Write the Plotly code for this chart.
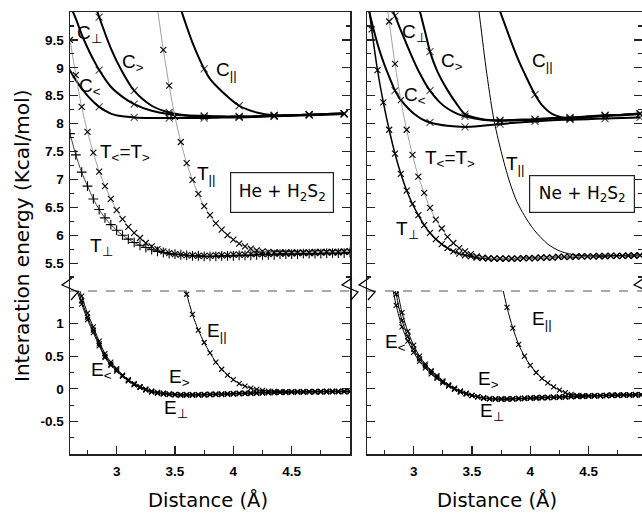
import plotly.graph_objects as go

# ---------------- data : He + H2S2 (left panel) ----------------
MARK_HE = [2.85, 3.15, 3.45, 3.75, 4.05, 4.35, 4.65, 4.95]

HE_CPERP_X = [2.55, 2.60, 2.65, 2.70, 2.75, 2.80, 2.85, 2.95, 3.05, 3.15, 3.30, 3.45, 3.60, 3.75, 3.90, 4.05, 4.20, 4.35, 4.50, 4.65, 4.80, 4.95]
HE_CPERP_E = [10.40, 10.13, 9.88, 9.60, 9.36, 9.15, 8.96, 8.66, 8.48, 8.35, 8.23, 8.17, 8.14, 8.13, 8.12, 8.12, 8.13, 8.14, 8.15, 8.16, 8.17, 8.18]
HE_CGT_X = [2.70, 2.75, 2.80, 2.85, 2.95, 3.05, 3.15, 3.30, 3.45, 3.60, 3.75, 3.90, 4.05, 4.20, 4.35, 4.50, 4.65, 4.80, 4.95]
HE_CGT_E = [10.90, 10.55, 10.22, 9.91, 9.35, 8.92, 8.59, 8.32, 8.20, 8.15, 8.14, 8.13, 8.13, 8.13, 8.14, 8.15, 8.16, 8.17, 8.18]
HE_CLT_X = [2.55, 2.60, 2.65, 2.70, 2.75, 2.80, 2.85, 2.95, 3.05, 3.15, 3.30, 3.45, 3.60, 3.75, 3.90, 4.05, 4.20, 4.35, 4.50, 4.65, 4.80, 4.95]
HE_CLT_E = [9.12, 8.95, 8.78, 8.63, 8.50, 8.39, 8.30, 8.18, 8.13, 8.11, 8.10, 8.10, 8.10, 8.10, 8.11, 8.11, 8.12, 8.13, 8.14, 8.15, 8.16, 8.17]
HE_CPAR_X = [3.45, 3.50, 3.55, 3.60, 3.65, 3.70, 3.75, 3.80, 3.90, 4.05, 4.20, 4.35, 4.50, 4.65, 4.80, 4.95]
HE_CPAR_E = [10.70, 10.35, 10.05, 9.74, 9.45, 9.20, 8.98, 8.80, 8.58, 8.32, 8.20, 8.15, 8.15, 8.16, 8.17, 8.18]

HE_T_X = [2.60, 2.65, 2.70, 2.75, 2.80, 2.85, 2.90, 2.95, 3.00, 3.05, 3.10, 3.15, 3.20, 3.25, 3.30, 3.35, 3.40,
          3.45, 3.50, 3.55, 3.60, 3.65, 3.70, 3.75, 3.80, 3.85, 3.90, 3.95, 4.00, 4.05, 4.10, 4.15, 4.20, 4.25,
          4.30, 4.35, 4.40, 4.45, 4.50, 4.55, 4.60, 4.65, 4.70, 4.75, 4.80, 4.85, 4.90, 4.95, 5.00]
HE_TLTGT_E = [9.50, 8.87, 8.30, 7.85, 7.48, 7.14, 6.88, 6.65, 6.45, 6.29, 6.15, 6.04, 5.95, 5.86, 5.80, 5.75, 5.71,
              5.68, 5.66, 5.65, 5.64, 5.64, 5.63, 5.63, 5.63, 5.64, 5.64, 5.64, 5.65, 5.65, 5.65, 5.66, 5.66, 5.66,
              5.66, 5.67, 5.67, 5.67, 5.67, 5.68, 5.68, 5.68, 5.68, 5.69, 5.69, 5.69, 5.69, 5.70, 5.70]
HE_TPERP_E = [7.82, 7.44, 7.13, 6.88, 6.65, 6.46, 6.31, 6.19, 6.09, 6.00, 5.93, 5.87, 5.82, 5.78, 5.74, 5.71, 5.69,
              5.67, 5.66, 5.65, 5.64, 5.63, 5.63, 5.62, 5.62, 5.62, 5.63, 5.63, 5.63, 5.64, 5.64, 5.64, 5.65, 5.65,
              5.65, 5.65, 5.66, 5.66, 5.66, 5.66, 5.67, 5.67, 5.67, 5.67, 5.68, 5.68, 5.68, 5.68, 5.69]
HE_TPAR_X = [3.35, 3.40, 3.45, 3.50, 3.55, 3.60, 3.65, 3.70, 3.75, 3.80, 3.85, 3.90, 3.95, 4.00, 4.05, 4.10, 4.15,
             4.20, 4.25, 4.30, 4.35, 4.40, 4.45, 4.50, 4.55, 4.60, 4.65, 4.70, 4.75, 4.80, 4.85, 4.90, 4.95, 5.00]
HE_TPAR_E = [10.06, 9.32, 8.68, 8.12, 7.67, 7.29, 6.99, 6.74, 6.52, 6.36, 6.21, 6.10, 6.00, 5.92, 5.85, 5.80, 5.76,
             5.73, 5.71, 5.70, 5.69, 5.69, 5.69, 5.69, 5.69, 5.69, 5.69, 5.70, 5.70, 5.70, 5.70, 5.70, 5.71, 5.71]

HE_E_X = [2.65, 2.70, 2.75, 2.80, 2.85, 2.90, 2.95, 3.00, 3.05, 3.10, 3.15, 3.20, 3.25, 3.30, 3.35, 3.40, 3.45,
          3.50, 3.55, 3.60, 3.65, 3.70, 3.75, 3.80, 3.85, 3.90, 3.95, 4.00, 4.05, 4.10, 4.15, 4.20, 4.25, 4.30,
          4.35, 4.40, 4.45, 4.50, 4.55, 4.60, 4.65, 4.70, 4.75, 4.80, 4.85, 4.90, 4.95, 5.00]
HE_ELT_E = [1.68, 1.42, 1.16, 0.95, 0.73, 0.54, 0.41, 0.31, 0.21, 0.14, 0.08, 0.035, -0.005, -0.035, -0.055, -0.068,
            -0.078, -0.084, -0.088, -0.088, -0.088, -0.088, -0.086, -0.083, -0.08, -0.078, -0.075, -0.072, -0.068,
            -0.065, -0.062, -0.059, -0.056, -0.054, -0.052, -0.05, -0.048, -0.046, -0.044, -0.043, -0.042, -0.041,
            -0.04, -0.039, -0.038, -0.038, -0.037, -0.036]
HE_EGT_E = [1.60, 1.35, 1.10, 0.90, 0.69, 0.50, 0.38, 0.29, 0.20, 0.13, 0.07, 0.03, -0.01, -0.04, -0.06, -0.07,
            -0.08, -0.085, -0.09, -0.09, -0.09, -0.09, -0.088, -0.085, -0.082, -0.08, -0.077, -0.074, -0.07,
            -0.067, -0.064, -0.061, -0.058, -0.056, -0.054, -0.052, -0.05, -0.048, -0.046, -0.045, -0.044, -0.043,
            -0.042, -0.041, -0.04, -0.04, -0.039, -0.038]
HE_EPERP_E = [1.55, 1.30, 1.06, 0.86, 0.66, 0.48, 0.36, 0.27, 0.19, 0.12, 0.06, 0.02, -0.02, -0.05, -0.07, -0.08,
              -0.09, -0.095, -0.10, -0.10, -0.10, -0.098, -0.096, -0.093, -0.09, -0.088, -0.085, -0.082, -0.078,
              -0.075, -0.072, -0.069, -0.066, -0.064, -0.062, -0.06, -0.058, -0.056, -0.054, -0.053, -0.052,
              -0.051, -0.05, -0.049, -0.048, -0.048, -0.047, -0.046]
HE_EPAR_X = [3.55, 3.60, 3.65, 3.70, 3.75, 3.80, 3.85, 3.90, 3.95, 4.00, 4.05, 4.10, 4.15, 4.20, 4.25, 4.30, 4.35,
             4.40, 4.45, 4.50, 4.55, 4.60, 4.65, 4.70, 4.75, 4.80, 4.85, 4.90, 4.95, 5.00]
HE_EPAR_E = [1.80, 1.45, 1.14, 0.90, 0.71, 0.55, 0.41, 0.30, 0.21, 0.14, 0.08, 0.04, 0.01, -0.01, -0.025, -0.035,
             -0.04, -0.043, -0.045, -0.045, -0.045, -0.045, -0.044, -0.043, -0.042, -0.041, -0.04, -0.04, -0.039, -0.038]

# ---------------- data : Ne + H2S2 (right panel) ----------------
MARK_NE = [2.84, 3.14, 3.44, 3.74, 4.04, 4.34, 4.64, 4.94]

NE_CPERP_X = [2.75, 2.80, 2.84, 2.90, 2.95, 3.00, 3.05, 3.10, 3.14, 3.22, 3.29, 3.37, 3.44, 3.59, 3.74, 3.89, 4.04, 4.19, 4.34, 4.49, 4.64, 4.79, 4.94]
NE_CPERP_E = [10.40, 10.12, 9.93, 9.62, 9.37, 9.13, 8.91, 8.72, 8.59, 8.39, 8.27, 8.18, 8.13, 8.07, 8.05, 8.06, 8.07, 8.09, 8.10, 8.12, 8.14, 8.15, 8.17]
NE_CGT_X = [2.95, 3.00, 3.055, 3.10, 3.14, 3.20, 3.29, 3.37, 3.44, 3.59, 3.74, 3.89, 4.04, 4.19, 4.34, 4.49, 4.64, 4.79, 4.94]
NE_CGT_E = [10.90, 10.45, 10.00, 9.63, 9.29, 8.95, 8.60, 8.35, 8.17, 8.08, 8.06, 8.07, 8.08, 8.10, 8.11, 8.13, 8.15, 8.16, 8.18]
NE_CLT_X = [2.58, 2.62, 2.66, 2.70, 2.75, 2.80, 2.84, 2.90, 2.95, 3.00, 3.07, 3.14, 3.29, 3.44, 3.59, 3.74, 3.89, 4.04, 4.19, 4.34, 4.49, 4.64, 4.79, 4.94]
NE_CLT_E = [10.35, 10.00, 9.66, 9.36, 9.05, 8.79, 8.59, 8.40, 8.28, 8.18, 8.08, 8.02, 7.96, 7.94, 7.96, 7.99, 8.02, 8.04, 8.06, 8.07, 8.08, 8.09, 8.10, 8.11]
NE_CPAR_X = [3.65, 3.70, 3.76, 3.80, 3.85, 3.90, 3.95, 4.04, 4.10, 4.19, 4.34, 4.49, 4.64, 4.79, 4.94]
NE_CPAR_E = [10.55, 10.25, 9.90, 9.67, 9.39, 9.13, 8.90, 8.52, 8.33, 8.17, 8.09, 8.11, 8.14, 8.16, 8.18]

NE_TPERP_X = [2.59, 2.64, 2.69, 2.74, 2.79, 2.84, 2.89, 2.94, 2.99, 3.04, 3.09, 3.14, 3.19, 3.24, 3.29, 3.34, 3.39,
              3.44, 3.49, 3.54, 3.59, 3.64, 3.69, 3.74, 3.79, 3.84, 3.89, 3.94, 3.99, 4.04, 4.09, 4.14, 4.19, 4.24,
              4.29, 4.34, 4.39, 4.44, 4.49, 4.54, 4.59, 4.64, 4.69, 4.74, 4.79, 4.84, 4.89, 4.94]
NE_TPERP_E = [10.50, 9.69, 8.96, 8.38, 7.89, 7.46, 7.10, 6.80, 6.56, 6.36, 6.18, 6.04, 5.93, 5.84, 5.77, 5.71, 5.67,
              5.64, 5.62, 5.60, 5.59, 5.58, 5.58, 5.58, 5.58, 5.58, 5.58, 5.59, 5.59, 5.59, 5.60, 5.60, 5.60, 5.61,
              5.61, 5.61, 5.61, 5.62, 5.62, 5.62, 5.62, 5.62, 5.63, 5.63, 5.63, 5.63, 5.63, 5.64]
NE_TLTGT_X = [2.74, 2.79, 2.84, 2.89, 2.94, 2.99, 3.04, 3.09, 3.14, 3.19, 3.24, 3.29, 3.34, 3.39, 3.44, 3.49, 3.54,
              3.59, 3.64, 3.69, 3.74, 3.79, 3.84, 3.89, 3.94, 3.99, 4.04, 4.09, 4.14, 4.19, 4.24, 4.29, 4.34, 4.39,
              4.44, 4.49, 4.54, 4.59, 4.64, 4.69, 4.74, 4.79, 4.84, 4.89, 4.94]
NE_TLTGT_E = [10.60, 9.83, 9.07, 8.42, 7.89, 7.44, 7.05, 6.76, 6.49, 6.28, 6.12, 5.97, 5.86, 5.77, 5.71, 5.66, 5.62,
              5.60, 5.59, 5.58, 5.58, 5.58, 5.58, 5.58, 5.59, 5.59, 5.59, 5.60, 5.60, 5.60, 5.61, 5.61, 5.61, 5.62,
              5.62, 5.62, 5.62, 5.63, 5.63, 5.63, 5.63, 5.63, 5.64, 5.64, 5.64]
NE_TPAR_X = [3.50, 3.56, 3.62, 3.685, 3.75, 3.82, 3.885, 3.95, 4.03, 4.15, 4.26, 4.40, 4.60, 4.96]
NE_TPAR_E = [10.90, 10.00, 9.00, 8.10, 7.50, 6.97, 6.60, 6.35, 6.10, 5.84, 5.71, 5.64, 5.63, 5.65]

NE_E_X = [2.80, 2.85, 2.90, 2.95, 3.00, 3.05, 3.10, 3.15, 3.20, 3.25, 3.30, 3.35, 3.40, 3.45, 3.50, 3.55, 3.60,
          3.65, 3.70, 3.75, 3.80, 3.85, 3.90, 3.95, 4.00, 4.05, 4.10, 4.15, 4.20, 4.25, 4.30, 4.35, 4.40, 4.45,
          4.50, 4.55, 4.60, 4.65, 4.70, 4.75, 4.80, 4.85, 4.90, 4.95]
NE_ELT_E = [1.72, 1.28, 0.95, 0.73, 0.56, 0.42, 0.32, 0.23, 0.16, 0.09, 0.04, -0.01, -0.05, -0.08, -0.105, -0.125,
            -0.14, -0.15, -0.155, -0.155, -0.155, -0.15, -0.148, -0.145, -0.14, -0.137, -0.133, -0.13, -0.127,
            -0.124, -0.12, -0.117, -0.114, -0.111, -0.108, -0.105, -0.103, -0.10, -0.098, -0.096, -0.094, -0.092,
            -0.09, -0.089]
NE_EGT_E = [1.95, 1.45, 1.05, 0.80, 0.61, 0.46, 0.35, 0.26, 0.18, 0.11, 0.05, 0.00, -0.04, -0.07, -0.10, -0.12,
            -0.14, -0.15, -0.155, -0.155, -0.155, -0.15, -0.148, -0.145, -0.14, -0.137, -0.133, -0.13, -0.127,
            -0.124, -0.12, -0.117, -0.114, -0.111, -0.108, -0.105, -0.103, -0.10, -0.098, -0.096, -0.094, -0.092,
            -0.09, -0.089]
NE_EPERP_E = [2.20, 1.62, 1.17, 0.88, 0.67, 0.50, 0.38, 0.28, 0.20, 0.12, 0.06, 0.01, -0.035, -0.07, -0.10, -0.125,
              -0.145, -0.155, -0.16, -0.162, -0.162, -0.158, -0.155, -0.152, -0.148, -0.145, -0.141, -0.138,
              -0.134, -0.131, -0.127, -0.124, -0.121, -0.118, -0.115, -0.112, -0.11, -0.107, -0.105, -0.103,
              -0.101, -0.099, -0.097, -0.096]
NE_EPAR_X = [3.75, 3.80, 3.85, 3.90, 3.95, 4.00, 4.05, 4.10, 4.15, 4.20, 4.25, 4.30, 4.35, 4.40, 4.45, 4.50, 4.55,
             4.60, 4.65, 4.70, 4.75, 4.80, 4.85, 4.90, 4.95]
NE_EPAR_E = [1.65, 1.25, 0.93, 0.68, 0.50, 0.36, 0.25, 0.16, 0.09, 0.03, -0.02, -0.06, -0.085, -0.10, -0.105,
             -0.107, -0.105, -0.103, -0.10, -0.098, -0.096, -0.094, -0.092, -0.09, -0.089]

X_TICKS = [3, 3.5, 4, 4.5]
X_TICKTEXT = ["3", "3.5", "4", "4.5"]
YU_TICKS = [5.5, 6, 6.5, 7, 7.5, 8, 8.5, 9, 9.5]
YU_TICKTEXT = ["5.5", "6", "6.5", "7", "7.5", "8", "8.5", "9", "9.5"]
YL_TICKS = [-0.5, 0, 0.5, 1]
YL_TICKTEXT = ["-0.5", "0", "0.5", "1"]

# ---------------- figure ----------------
FONT = "Liberation Sans, Arial, sans-serif"
TFONT = "DejaVu Sans, Liberation Sans, sans-serif"
GRAY = "#a0a0a0"
AX = "#222222"

fig = go.Figure()


def sizes(xs, marks, s):
    return [s if any(abs(x - m) < 1e-6 for m in marks) else 0 for x in xs]


def curve(x, y, xa, ya, lw=1.0, lc="black", sym="x-thin", ms=6, size_list=None, mode="lines+markers"):
    fig.add_trace(go.Scatter(
        x=x, y=y, xaxis=xa, yaxis=ya, mode=mode, showlegend=False, hoverinfo="skip",
        line=dict(color=lc, width=lw, shape="spline", smoothing=0.8),
        marker=dict(symbol=sym, size=size_list if size_list is not None else ms, color="black",
                    line=dict(color="black", width=1.1)),
    ))


# Left panel upper (x2, y2)
curve(HE_CPERP_X, HE_CPERP_E, "x2", "y2", lw=2.0, size_list=sizes(HE_CPERP_X, MARK_HE, 7))
curve(HE_CGT_X, HE_CGT_E, "x2", "y2", lw=2.0, size_list=sizes(HE_CGT_X, MARK_HE, 7))
curve(HE_CLT_X, HE_CLT_E, "x2", "y2", lw=2.0, size_list=sizes(HE_CLT_X, MARK_HE, 7))
curve(HE_CPAR_X, HE_CPAR_E, "x2", "y2", lw=2.0, size_list=sizes(HE_CPAR_X, MARK_HE, 7))
curve(HE_T_X, HE_TLTGT_E, "x2", "y2", lw=1.0, lc=GRAY, ms=6)
curve(HE_T_X, HE_TPERP_E, "x2", "y2", lw=1.0, lc="#444444", sym="cross-thin", ms=7)
curve(HE_TPAR_X, HE_TPAR_E, "x2", "y2", lw=1.0, lc=GRAY, ms=6)
# Left panel lower (x, y)
curve(HE_E_X, HE_ELT_E, "x", "y", lw=1.0, ms=5)
curve(HE_E_X, HE_EGT_E, "x", "y", lw=1.0, ms=5)
curve(HE_E_X, HE_EPERP_E, "x", "y", lw=1.0, ms=5)
curve(HE_EPAR_X, HE_EPAR_E, "x", "y", lw=1.0, ms=5)

# Right panel upper (x4, y4)
curve(NE_CPERP_X, NE_CPERP_E, "x4", "y4", lw=2.0, size_list=sizes(NE_CPERP_X, MARK_NE, 7))
curve(NE_CGT_X, NE_CGT_E, "x4", "y4", lw=2.0, size_list=sizes(NE_CGT_X, MARK_NE, 7))
curve(NE_CLT_X, NE_CLT_E, "x4", "y4", lw=2.0, size_list=sizes(NE_CLT_X, MARK_NE, 7))
curve(NE_CPAR_X, NE_CPAR_E, "x4", "y4", lw=2.0, size_list=sizes(NE_CPAR_X, MARK_NE, 7))
curve(NE_TPERP_X, NE_TPERP_E, "x4", "y4", lw=1.5, lc="black", ms=6)
curve(NE_TLTGT_X, NE_TLTGT_E, "x4", "y4", lw=1.0, lc=GRAY, ms=6)
curve(NE_TPAR_X, NE_TPAR_E, "x4", "y4", lw=1.0, lc="black", mode="lines")
# Right panel lower (x3, y3)
curve(NE_E_X, NE_ELT_E, "x3", "y3", lw=1.0, ms=5)
curve(NE_E_X, NE_EGT_E, "x3", "y3", lw=1.0, ms=5)
curve(NE_E_X, NE_EPERP_E, "x3", "y3", lw=1.0, ms=5)
curve(NE_EPAR_X, NE_EPAR_E, "x3", "y3", lw=1.0, ms=5)

# ---------------- axes ----------------
W, H = 642, 513
ML, MR, MT, MB = 70, 0, 12, 59
PW, PH = W - ML - MR, H - MT - MB
LEFT_DOM = [0, 280 / PW]
RIGHT_DOM = [297 / PW, 1]
LOW_DOM = [0, 163 / PH]
UP_DOM = [163 / PH, 1]
XR_LEFT = [2.6, 5.0]
XR_RIGHT = [2.6, 2.6 + 275 / (280 / 2.4)]

tickfont = dict(family=FONT, size=13.5, color="black")
minor = dict(ticks="inside", ticklen=4, tickwidth=1.2, tickcolor=AX, dtick=0.25, tick0=0, showgrid=False)


def bold(lst):
    return ["<b>" + t + "</b>" for t in lst]


def yax(dom, rng, tv, tt, anchor, labels):
    return dict(domain=dom, range=rng, anchor=anchor, tickvals=tv, ticktext=bold(tt), showticklabels=labels,
                showline=True, linecolor=AX, linewidth=1.5, mirror="ticks", ticks="inside", ticklen=8,
                tickwidth=1.2, tickcolor=AX, showgrid=False, zeroline=False, tickfont=tickfont,
                ticklabelstandoff=2, minor=minor, fixedrange=True, automargin=False)


def xax_low(dom, rng, anchor):
    return dict(domain=dom, range=rng, anchor=anchor, tickvals=X_TICKS, ticktext=bold(X_TICKTEXT),
                showline=True, linecolor=AX, linewidth=1.5, mirror=False, ticks="inside", ticklen=8,
                tickwidth=1.2, tickcolor=AX, showgrid=False, zeroline=False, tickfont=tickfont,
                ticklabelstandoff=4, minor=minor, automargin=False, fixedrange=True)


def xax_up(dom, rng, anchor):
    return dict(domain=dom, range=rng, anchor=anchor, side="top", showline=True, linecolor=AX, linewidth=1.5,
                ticks="", showticklabels=False, showgrid=False, zeroline=False, automargin=False, fixedrange=True)


fig.update_layout(
    width=W, height=H, margin=dict(l=ML, r=MR, t=MT, b=MB),
    plot_bgcolor="white", paper_bgcolor="white", showlegend=False,
    xaxis=xax_low(LEFT_DOM, XR_LEFT, "y"),
    yaxis=yax(LOW_DOM, [-1, 1.5], YL_TICKS, YL_TICKTEXT, "x", True),
    xaxis2=xax_up(LEFT_DOM, XR_LEFT, "y2"),
    yaxis2=yax(UP_DOM, [5, 10], YU_TICKS, YU_TICKTEXT, "x2", True),
    xaxis3=xax_low(RIGHT_DOM, XR_RIGHT, "y3"),
    yaxis3=yax(LOW_DOM, [-1, 1.5], YL_TICKS, YL_TICKTEXT, "x3", False),
    xaxis4=xax_up(RIGHT_DOM, XR_RIGHT, "y4"),
    yaxis4=yax(UP_DOM, [5, 10], YU_TICKS, YU_TICKTEXT, "x4", False),
)

# break: dashed line and zig-zag marks
shapes = []
for xr in ["x", "x3"]:
    shapes.append(dict(type="line", xref=f"{xr} domain", x0=0, x1=1, yref="paper", y0=UP_DOM[0], y1=UP_DOM[0],
                       line=dict(color="#555555", width=1.2, dash="dash")))
for xa in [0, LEFT_DOM[1], RIGHT_DOM[0], 1.0]:
    shapes.append(dict(type="path", xref="paper", yref="paper", xsizemode="pixel", ysizemode="pixel",
                       xanchor=xa, yanchor=UP_DOM[0], path="M 2,13 L -8,6 L 8,-1 L 1,-9",
                       line=dict(color="black", width=1.2)))
fig.update_layout(shapes=shapes)

# ---------------- labels ----------------
LAB = dict(family=FONT, size=19, color="black")
labels = [
    ("x2", "y2", 2.77, 9.61, "C<sub>⊥</sub>"), ("x2", "y2", 3.14, 9.09, "C<sub>&gt;</sub>"),
    ("x2", "y2", 2.77, 8.65, "C<sub>&lt;</sub>"), ("x2", "y2", 3.94, 8.95, "C<sub>||</sub>"),
    ("x2", "y2", 3.07, 7.48, "T<sub>&lt;</sub>=T<sub>&gt;</sub>"), ("x2", "y2", 3.77, 7.07, "T<sub>||</sub>"),
    ("x2", "y2", 2.87, 5.79, "T<sub>⊥</sub>"),
    ("x", "y", 3.86, 0.87, "E<sub>||</sub>"), ("x", "y", 2.87, 0.27, "E<sub>&lt;</sub>"),
    ("x", "y", 3.54, 0.17, "E<sub>&gt;</sub>"), ("x", "y", 3.51, -0.31, "E<sub>⊥</sub>"),
    ("x4", "y4", 3.01, 9.63, "C<sub>⊥</sub>"), ("x4", "y4", 3.33, 9.10, "C<sub>&gt;</sub>"),
    ("x4", "y4", 3.01, 8.50, "C<sub>&lt;</sub>"), ("x4", "y4", 4.10, 9.10, "C<sub>||</sub>"),
    ("x4", "y4", 3.31, 7.37, "T<sub>&lt;</sub>=T<sub>&gt;</sub>"), ("x4", "y4", 3.87, 7.25, "T<sub>||</sub>"),
    ("x4", "y4", 2.95, 6.09, "T<sub>⊥</sub>"),
    ("x3", "y3", 2.84, 0.70, "E<sub>&lt;</sub>"), ("x3", "y3", 4.10, 1.05, "E<sub>||</sub>"),
    ("x3", "y3", 3.64, 0.14, "E<sub>&gt;</sub>"), ("x3", "y3", 3.67, -0.36, "E<sub>⊥</sub>"),
]
anns = []
for xr, yr, x, y, t in labels:
    anns.append(dict(xref=xr, yref=yr, x=x, y=y, text=t, showarrow=False, font=LAB,
                     xanchor="center", yanchor="middle"))

anns.append(dict(xref="x2", yref="y2", x=4.416, y=6.76, text="He + H<sub>2</sub>S<sub>2</sub>", showarrow=False,
                 font=dict(family=TFONT, size=17, color="black"), bordercolor=AX, borderwidth=1.2, borderpad=6,
                 width=90, height=27, bgcolor="white", xanchor="center", yanchor="middle"))
anns.append(dict(xref="x4", yref="y4", x=4.445, y=6.74, text="Ne + H<sub>2</sub>S<sub>2</sub>", showarrow=False,
                 font=dict(family=TFONT, size=17, color="black"), bordercolor=AX, borderwidth=1.2, borderpad=6,
                 width=92, height=24, bgcolor="white", xanchor="center", yanchor="middle"))

# axis titles
anns.append(dict(xref="paper", yref="paper", x=(22 - ML) / PW, y=(H - MB - 236) / PH,
                 text="Interaction energy (Kcal/mol)", textangle=-90, showarrow=False,
                 xanchor="center", yanchor="middle",
                 font=dict(family=TFONT, size=20, color="black")))
for px in [208, 497]:
    anns.append(dict(xref="paper", yref="paper", x=(px - ML) / PW, y=(H - MB - 500) / PH,
                     text="Distance (Å)", showarrow=False, xanchor="center", yanchor="middle",
                     font=dict(family=TFONT, size=19.5, color="black")))
fig.update_layout(annotations=anns)

fig.write_html("out.html", config={"displayModeBar": False, "staticPlot": True},
               post_script="document.body.style.margin='0';document.body.style.overflow='hidden';")
